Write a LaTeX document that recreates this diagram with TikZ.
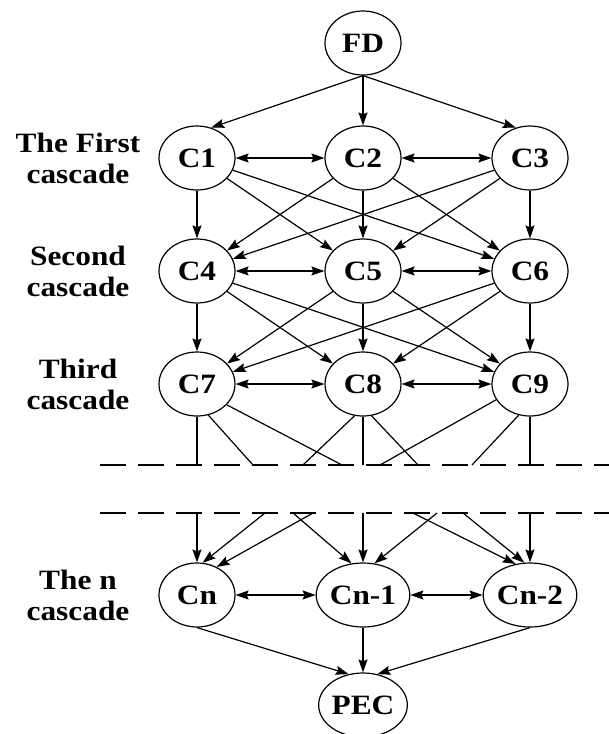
\documentclass[tikz,border=0pt]{standalone}
\usepackage{fontspec}
\setmainfont{Liberation Serif}[FakeStretch=1.12]
\usetikzlibrary{shapes, arrows.meta}
\tikzstyle{cascade} = [ellipse, draw=black, line width=1.2pt, minimum width=76pt, minimum height=64pt, inner sep=0pt, text centered, font=\fontsize{28}{31}\selectfont\bfseries]
\tikzstyle{rowtext} = [align=center, font=\fontsize{28}{31}\selectfont\bfseries]
\tikzstyle{arrow} = [line width=1.2pt, ->, >={Stealth[length=13pt, width=9pt, inset=2pt]}]
\tikzstyle{twoway} = [line width=1.2pt, <->, >={Stealth[length=13pt, width=9pt, inset=2pt]}]
\tikzstyle{link} = [line width=1.2pt]
\tikzstyle{gapline} = [line width=1.2pt, dash pattern=on 26pt off 12pt]

\begin{document}
\begin{tikzpicture}[node distance=113pt]
        \useasboundingbox (0pt,0pt) rectangle (609pt,-734pt);
        \node (fd) [cascade] at (363pt,-43pt) {FD};
        \node (c2) [cascade, below of=fd, yshift=-2pt] {C2};
        \node (c1) [cascade, left of=c2, xshift=-53pt] {C1};
        \node (c3) [cascade, right of=c2, xshift=54pt] {C3};
        \node (c5) [cascade, below of=c2] {C5};
        \node (c4) [cascade, left of=c5, xshift=-53pt] {C4};
        \node (c6) [cascade, right of=c5, xshift=54pt] {C6};
        \node (c8) [cascade, below of=c5] {C8};
        \node (c7) [cascade, left of=c8, xshift=-53pt] {C7};
        \node (c9) [cascade, right of=c8, xshift=54pt] {C9};
        \node (cn1) [cascade, below of=c8, yshift=-98pt] {Cn-1};
        \node (cn) [cascade, left of=cn1, xshift=-53pt] {Cn};
        \node (cn2) [cascade, right of=cn1, xshift=54pt] {Cn-2};
        \node (pec) [cascade, below of=cn1, yshift=3pt] {PEC};
        \node (first) [rowtext, left of=c1, xshift=-6pt] {The First\\cascade};
        \node (second) [rowtext, left of=c4, xshift=-6pt] {Second\\cascade};
        \node (third) [rowtext, left of=c7, xshift=-6pt] {Third\\cascade};
        \node (nth) [rowtext, left of=cn, xshift=-6pt] {The n\\cascade};
        % the two cut lines
        \coordinate (cutA) at (100pt,-465pt);
        \coordinate (cutAend) at (609pt,-465pt);
        \coordinate (cutB) at (100pt,-513pt);
        \coordinate (cutBend) at (609pt,-513pt);
        \draw [gapline] (cutA) -- (cutAend);
        \draw [gapline] (cutB) -- (cutBend);
        % loose ends at the cuts
        \coordinate (s1) at (253pt,-465pt);
        \coordinate (s2) at (342pt,-465pt);
        \coordinate (s3) at (303pt,-465pt);
        \coordinate (s4) at (418pt,-465pt);
        \coordinate (s5) at (380pt,-465pt);
        \coordinate (s6) at (472pt,-465pt);
        \coordinate (w1) at (265pt,-513pt);
        \coordinate (w2) at (313pt,-513pt);
        \coordinate (w3) at (293pt,-513pt);
        \coordinate (w4) at (437pt,-513pt);
        \coordinate (w5) at (413pt,-513pt);
        \coordinate (w6) at (463pt,-513pt);

        \draw [arrow] (fd.south) -- (c1.65);
        \draw [arrow] (fd) -- (c2);
        \draw [arrow] (fd.south) -- (c3.115);
        \draw [twoway] (c1) -- (c2);
        \draw [twoway] (c2) -- (c3);
        \draw [arrow] (c1) -- (c4);
        \draw [arrow] (c1) -- (c5);
        \draw [arrow] (c1) -- (c6);
        \draw [arrow] (c2) -- (c4);
        \draw [arrow] (c2) -- (c5);
        \draw [arrow] (c2) -- (c6);
        \draw [arrow] (c3) -- (c4);
        \draw [arrow] (c3) -- (c5);
        \draw [arrow] (c3) -- (c6);
        \draw [twoway] (c4) -- (c5);
        \draw [twoway] (c5) -- (c6);
        \draw [arrow] (c4) -- (c7);
        \draw [arrow] (c4) -- (c8);
        \draw [arrow] (c4) -- (c9);
        \draw [arrow] (c5) -- (c7);
        \draw [arrow] (c5) -- (c8);
        \draw [arrow] (c5) -- (c9);
        \draw [arrow] (c6) -- (c7);
        \draw [arrow] (c6) -- (c8);
        \draw [arrow] (c6) -- (c9);
        \draw [twoway] (c7) -- (c8);
        \draw [twoway] (c8) -- (c9);
        \draw [link] (c7) -- (c7 |- cutA);
        \draw [link] (c7.-70) -- (s1);
        \draw [link] (c7.-35) -- (s2);
        \draw [link] (c8.-105) -- (s3);
        \draw [link] (c8) -- (c8 |- cutA);
        \draw [link] (c8.-75) -- (s4);
        \draw [link] (c9.-155) -- (s5);
        \draw [link] (c9.-110) -- (s6);
        \draw [link] (c9) -- (c9 |- cutA);
        \draw [arrow] (cn |- cutB) -- (cn);
        \draw [arrow] (w1) -- (cn.80);
        \draw [arrow] (w2) -- (cn.55);
        \draw [arrow] (w3) -- (cn1.110);
        \draw [arrow] (cn1 |- cutB) -- (cn1);
        \draw [arrow] (w4) -- (cn1.70);
        \draw [arrow] (w5) -- (cn2.115);
        \draw [arrow] (w6) -- (cn2.100);
        \draw [arrow] (cn2 |- cutB) -- (cn2);
        \draw [twoway] (cn) -- (cn1);
        \draw [twoway] (cn1) -- (cn2);
        \draw [arrow] (cn.south) -- (pec.115);
        \draw [arrow] (cn1) -- (pec);
        \draw [arrow] (cn2.south) -- (pec.65);
    \end{tikzpicture}
\end{document}
